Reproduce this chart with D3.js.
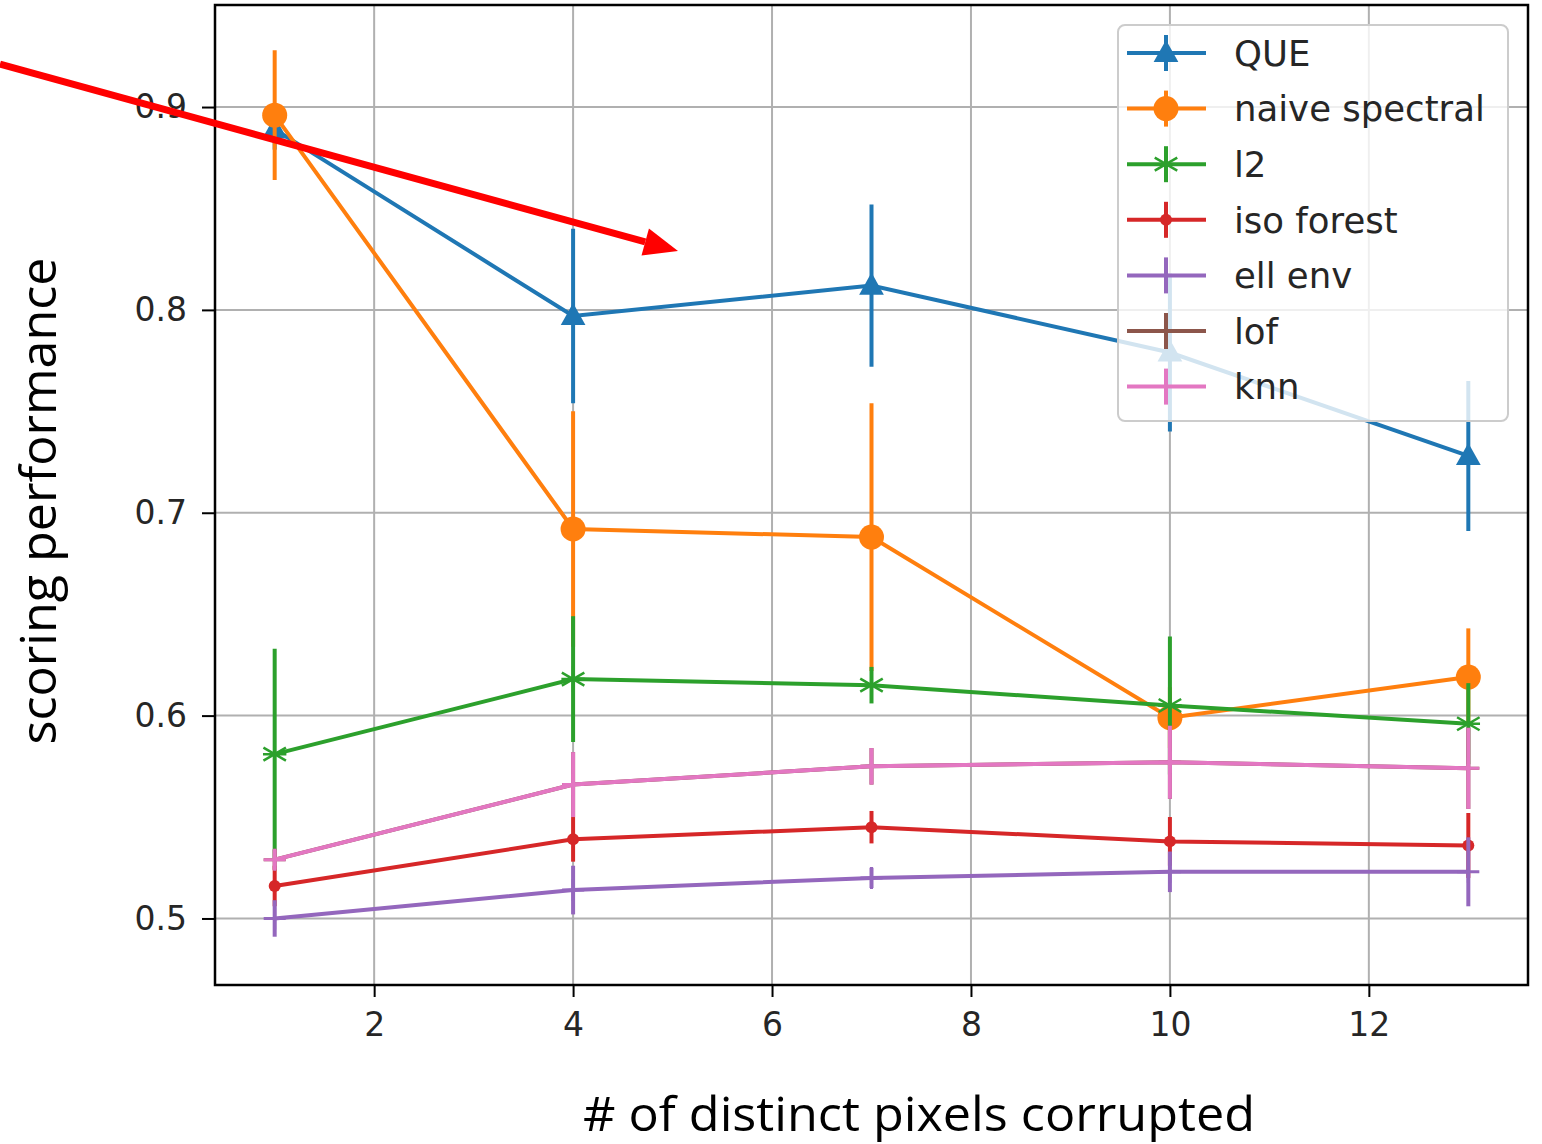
<!DOCTYPE html>
<meta charset="utf-8">
<head>
<script src="https://cdn.jsdelivr.net/npm/d3@7"></script>
<style>
  body { margin: 0; background: #fff; }
  .tick text { font-family: "DejaVu Sans", sans-serif; fill: #262626; }
  .axlabel { font-family: "Liberation Sans Narrow", "Open Sans", sans-serif; fill: #000; }
</style>
</head>
<body>
<div id="chart"></div>
<script>
// x values (# of distinct pixels corrupted)
const xVals = [1, 4, 7, 10, 13];
const xTicks = [2, 4, 6, 8, 10, 12];
const yTicks = [0.5, 0.6, 0.7, 0.8, 0.9];

// means and error half-widths
const queMean   = [0.889, 0.797, 0.812, 0.779, 0.728];
const queErr    = [0.010, 0.043, 0.040, 0.039, 0.037];
const naiveMean = [0.896, 0.692, 0.688, 0.599, 0.619];
const naiveErr  = [0.032, 0.058, 0.066, 0.015, 0.024];
const l2Mean    = [0.581, 0.618, 0.615, 0.605, 0.596];
const l2Err     = [0.052, 0.031, 0.009, 0.034, 0.020];
const isoMean   = [0.516, 0.539, 0.545, 0.538, 0.536];
const isoErr    = [0.010, 0.011, 0.008, 0.012, 0.016];
const ellMean   = [0.500, 0.514, 0.520, 0.523, 0.523];
const ellErr    = [0.009, 0.012, 0.005, 0.010, 0.017];
const lofMean   = [0.529, 0.566, 0.575, 0.577, 0.574];
const lofErr    = [0.005, 0.016, 0.009, 0.018, 0.020];
const knnMean   = [0.529, 0.566, 0.575, 0.577, 0.574];
const knnErr    = [0.005, 0.016, 0.009, 0.018, 0.020];

const seriesNames = ["QUE", "naive spectral", "l2", "iso forest", "ell env", "lof", "knn"];
const colors = ["#1f77b4", "#ff7f0e", "#2ca02c", "#d62728", "#9467bd", "#8c564b", "#e377c2"];
const markers = ["triangle", "circle", "asterisk", "dot", "plus", "plus", "plus"];
const means = [queMean, naiveMean, l2Mean, isoMean, ellMean, lofMean, knnMean];
const errs = [queErr, naiveErr, l2Err, isoErr, ellErr, lofErr, knnErr];

const series = seriesNames.map((name, i) => ({
  name: name, color: colors[i], marker: markers[i],
  points: xVals.map((x, j) => ({x: x, y: means[i][j], e: errs[i][j]}))
}));

const W = 1542, H = 1144;
const plot = {left: 215, right: 1528, top: 5, bottom: 985};

const svg = d3.select("#chart").append("svg")
  .attr("width", W).attr("height", H);

const x = d3.scaleLinear().domain([0.4, 13.6]).range([plot.left, plot.right]);
const y = d3.scaleLinear().domain([0.4672, 0.9503]).range([plot.bottom, plot.top]);

// grid
const grid = svg.append("g");
grid.selectAll(".gx").data(xTicks).join("line")
  .attr("x1", d => x(d)).attr("x2", d => x(d))
  .attr("y1", plot.top).attr("y2", plot.bottom)
  .attr("stroke", "#b0b0b0").attr("stroke-width", 2);
grid.selectAll(".gy").data(yTicks).join("line")
  .attr("y1", d => y(d)).attr("y2", d => y(d))
  .attr("x1", plot.left).attr("x2", plot.right)
  .attr("stroke", "#b0b0b0").attr("stroke-width", 2);

function drawMarker(g, type, cx, cy, color) {
  if (type === "triangle") {
    const r = 13;
    g.append("path")
      .attr("d", `M${cx},${cy - r} L${cx + r * 0.95},${cy + r * 0.7} L${cx - r * 0.95},${cy + r * 0.7} Z`)
      .attr("fill", color);
  } else if (type === "circle") {
    g.append("circle").attr("cx", cx).attr("cy", cy).attr("r", 12.5).attr("fill", color);
  } else if (type === "dot") {
    g.append("circle").attr("cx", cx).attr("cy", cy).attr("r", 6).attr("fill", color);
  } else if (type === "plus") {
    const r = 11;
    g.append("path")
      .attr("d", `M${cx - r},${cy} L${cx + r},${cy} M${cx},${cy - r} L${cx},${cy + r}`)
      .attr("stroke", color).attr("stroke-width", 3);
  } else if (type === "asterisk") {
    const r = 13;
    let d = "";
    [90, 30, 150].forEach(a => {
      const t = a * Math.PI / 180;
      d += `M${cx - r * Math.cos(t)},${cy - r * Math.sin(t)} L${cx + r * Math.cos(t)},${cy + r * Math.sin(t)} `;
    });
    d += `M${cx - r * 0.9},${cy} L${cx + r * 0.9},${cy}`;
    g.append("path").attr("d", d).attr("stroke", color).attr("stroke-width", 2.5);
  }
}

const line = d3.line().x(d => x(d.x)).y(d => y(d.y));

// series in drawing order
series.forEach(s => {
  const g = svg.append("g");
  g.append("path").datum(s.points).attr("d", line)
    .attr("fill", "none").attr("stroke", s.color).attr("stroke-width", 4);
  g.selectAll(".err").data(s.points).join("line")
    .attr("x1", d => x(d.x)).attr("x2", d => x(d.x))
    .attr("y1", d => y(d.y - d.e)).attr("y2", d => y(d.y + d.e))
    .attr("stroke", s.color).attr("stroke-width", 4);
  s.points.forEach(d => drawMarker(g, s.marker, x(d.x), y(d.y), s.color));
});

// axes
const xAxis = svg.append("g").attr("transform", `translate(0,${plot.bottom})`)
  .call(d3.axisBottom(x).tickValues(xTicks).tickFormat(d3.format("d")).tickSize(12).tickPadding(16));
const yAxis = svg.append("g").attr("transform", `translate(${plot.left},0)`)
  .call(d3.axisLeft(y).tickValues(yTicks).tickFormat(d3.format(".1f")).tickSize(13).tickPadding(15));
[xAxis, yAxis].forEach(a => {
  a.select(".domain").remove();
  a.selectAll(".tick line").attr("stroke", "#000").attr("stroke-width", 2);
  a.selectAll(".tick text").style("font-size", "33px");
});

// frame
svg.append("rect")
  .attr("x", plot.left).attr("y", plot.top)
  .attr("width", plot.right - plot.left).attr("height", plot.bottom - plot.top)
  .attr("fill", "none").attr("stroke", "#000").attr("stroke-width", 2.5);

// legend
const leg = svg.append("g");
leg.append("rect")
  .attr("x", 1118).attr("y", 25).attr("width", 390).attr("height", 396)
  .attr("rx", 7).attr("fill", "#fff").attr("fill-opacity", 0.8)
  .attr("stroke", "#cccccc").attr("stroke-width", 2);
series.forEach((s, i) => {
  const cy = 53 + i * 55.6;
  const row = leg.append("g");
  row.append("line").attr("x1", 1127).attr("x2", 1206).attr("y1", cy).attr("y2", cy)
    .attr("stroke", s.color).attr("stroke-width", 4);
  row.append("line").attr("x1", 1166).attr("x2", 1166).attr("y1", cy - 18).attr("y2", cy + 18)
    .attr("stroke", s.color).attr("stroke-width", 4);
  drawMarker(row, s.marker, 1166, cy, s.color);
  row.append("text").attr("x", 1234).attr("y", cy).attr("dy", "0.36em")
    .style("font-family", "DejaVu Sans, sans-serif").style("font-size", "35.5px")
    .attr("fill", "#262626").text(s.name);
});

// axis labels
svg.append("text").attr("class", "axlabel")
  .attr("x", 919).attr("y", 1131).attr("text-anchor", "middle")
  .style("font-size", "48px")
  .attr("textLength", 672).attr("lengthAdjust", "spacingAndGlyphs")
  .text("# of distinct pixels corrupted");
svg.append("text").attr("class", "axlabel")
  .attr("transform", "translate(56,501) rotate(-90)").attr("text-anchor", "middle")
  .style("font-size", "50px")
  .attr("textLength", 487).attr("lengthAdjust", "spacingAndGlyphs")
  .text("scoring performance");

// red annotation arrow
const ax0 = 0, ay0 = 64, ax1 = 678, ay1 = 251;
const ang = Math.atan2(ay1 - ay0, ax1 - ax0);
const hl = 34, hw = 14;
const bx = ax1 - hl * Math.cos(ang), by = ay1 - hl * Math.sin(ang);
svg.append("line").attr("x1", ax0).attr("y1", ay0).attr("x2", bx).attr("y2", by)
  .attr("stroke", "#ff0000").attr("stroke-width", 7);
svg.append("path")
  .attr("d", `M${ax1},${ay1} L${bx + hw * Math.sin(ang)},${by - hw * Math.cos(ang)} L${bx - hw * Math.sin(ang)},${by + hw * Math.cos(ang)} Z`)
  .attr("fill", "#ff0000");
</script>
</body>
